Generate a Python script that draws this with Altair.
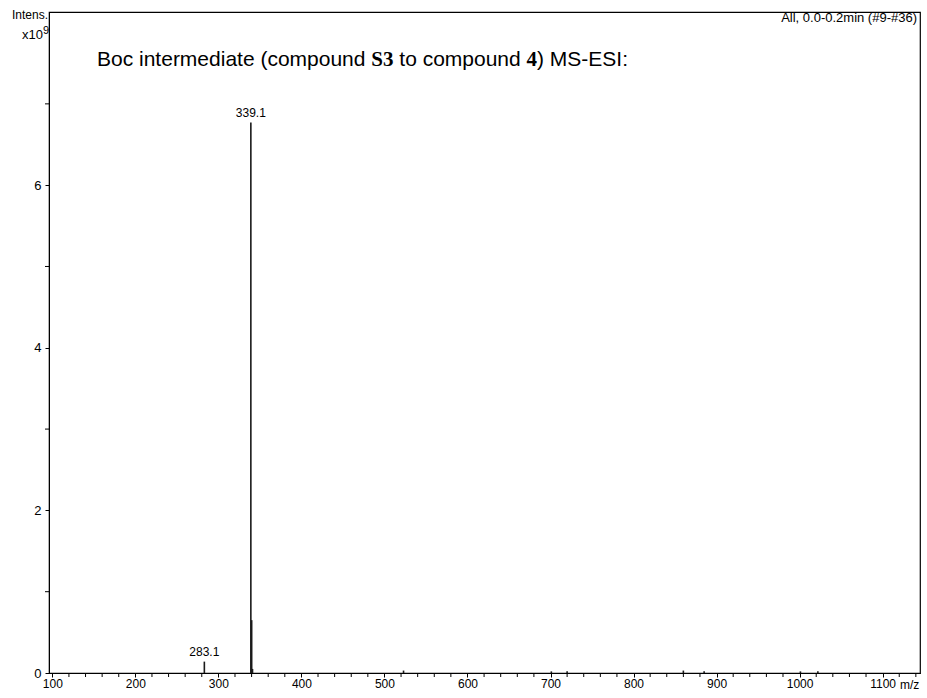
import altair as alt
import pandas as pd

# ---- data (intensity in units of 10^9) ----
mz = [283.1, 339.1, 340.1, 341.1, 523.0, 701.0, 720.0, 860.0, 885.0, 1001.0, 1022.0]
intensity = [0.14, 6.77, 0.65, 0.05, 0.03, 0.02, 0.02, 0.03, 0.02, 0.02, 0.02]
label_mz = [283.1, 339.1]
label_int = [0.14, 6.77]
label_txt = ["283.1", "339.1"]

x_major = list(range(100, 1101, 100))
x_minor = [v for v in range(100, 1141, 20) if v % 100 != 0]
y_major = [0, 2, 4, 6]
y_minor = [1, 3, 5, 7]

peaks = pd.DataFrame({"mz": mz, "intensity": intensity})
labels = pd.DataFrame({"mz": label_mz, "intensity": label_int, "txt": label_txt})
xmin_df = pd.DataFrame({"v": x_minor})
ymin_df = pd.DataFrame({"v": y_minor})

W, H = 871, 661
FONT = "Liberation Sans"
xscale = alt.Scale(domain=[96, 1145], nice=False, zero=False)
yscale = alt.Scale(domain=[0, 8.13], nice=False)

xaxis = alt.Axis(values=x_major, tickSize=4, tickColor="black", domainColor="black",
                 labelColor="black", labelFont=FONT, labelFontSize=12, grid=False, title=None,
                 labelPadding=1, labelFlush=False, labelOverlap=False, format="d")
yaxis = alt.Axis(values=y_major, tickSize=4, tickColor="black", domainColor="black",
                 labelColor="black", labelFont=FONT, labelFontSize=13, grid=False, title=None,
                 labelPadding=4, labelOverlap=False, format="d")

spec = alt.Chart(peaks).mark_rule(color="#1a1a1a", strokeWidth=1.6).encode(
    x=alt.X("mz:Q", scale=xscale, axis=xaxis),
    y=alt.Y("intensity:Q", scale=yscale, axis=yaxis),
    y2=alt.datum(0),
)

peak_labels = alt.Chart(labels).mark_text(font=FONT, fontSize=12, color="black",
                                          baseline="bottom", dy=-3).encode(
    x=alt.X("mz:Q", scale=xscale),
    y=alt.Y("intensity:Q", scale=yscale),
    text="txt:N",
)

# minor ticks (every 20 m/z and every 1e9), placed through the scales
x_minor_ticks = alt.Chart(xmin_df).mark_rule(color="black", strokeWidth=1).encode(
    x=alt.X("v:Q", scale=xscale),
    y=alt.value(H),
    y2=alt.value(H + 4),
)
y_minor_ticks = alt.Chart(ymin_df).mark_rule(color="black", strokeWidth=1).encode(
    y=alt.Y("v:Q", scale=yscale),
    x=alt.value(0),
    x2=alt.value(-4),
)

one = pd.DataFrame({"a": [0]})


def txt(s, x, y, size=11, align="left", weight="normal", font=FONT):
    return alt.Chart(one).mark_text(text=s, font=font, fontSize=size, fontWeight=weight,
                                    align=align, baseline="alphabetic", color="black").encode(
        x=alt.value(x), y=alt.value(y))


# title line with bold parts (spaces accounted for in the advance, not in the strings)
F = 21
SP = 278
t0 = 48
segs = [
    ("Boc intermediate (compound", "normal", FONT, 12783, SP),
    ("S3", "bold", "Liberation Serif", 1056, SP),
    ("to compound", "normal", FONT, 6059 - SP, SP),
    ("4", "bold", "Liberation Serif", 500, 0),
    (") MS-ESI:", "normal", FONT, 4334, 0),
]
title_layers = []
xpos = t0
for s, w, f, units, gap in segs:
    title_layers.append(txt(s, xpos, 54, size=F, weight=w, font=f))
    xpos += (units + gap) * F / 1000.0

annots = [
    txt("Intens.", -1, 7, size=12, align="right"),
    txt("x10", -6, 27, size=13, align="right"),
    txt("9", -6, 22, size=11, align="left"),
    txt("All, 0.0-0.2min (#9-#36)", 868, 10, size=13, align="right"),
    txt("m/z", 851, 677, size=12, align="left"),
]

chart = alt.layer(spec, peak_labels, x_minor_ticks, y_minor_ticks,
                  *title_layers, *annots).properties(
    width=W, height=H,
    autosize=alt.AutoSizeParams(type="none"),
    padding={"left": 49, "top": 12, "right": 7, "bottom": 25},
    background="white",
).configure_view(stroke="black", strokeWidth=1.2)

chart.save("out.html", embed_options={"renderer": "svg", "actions": False})
